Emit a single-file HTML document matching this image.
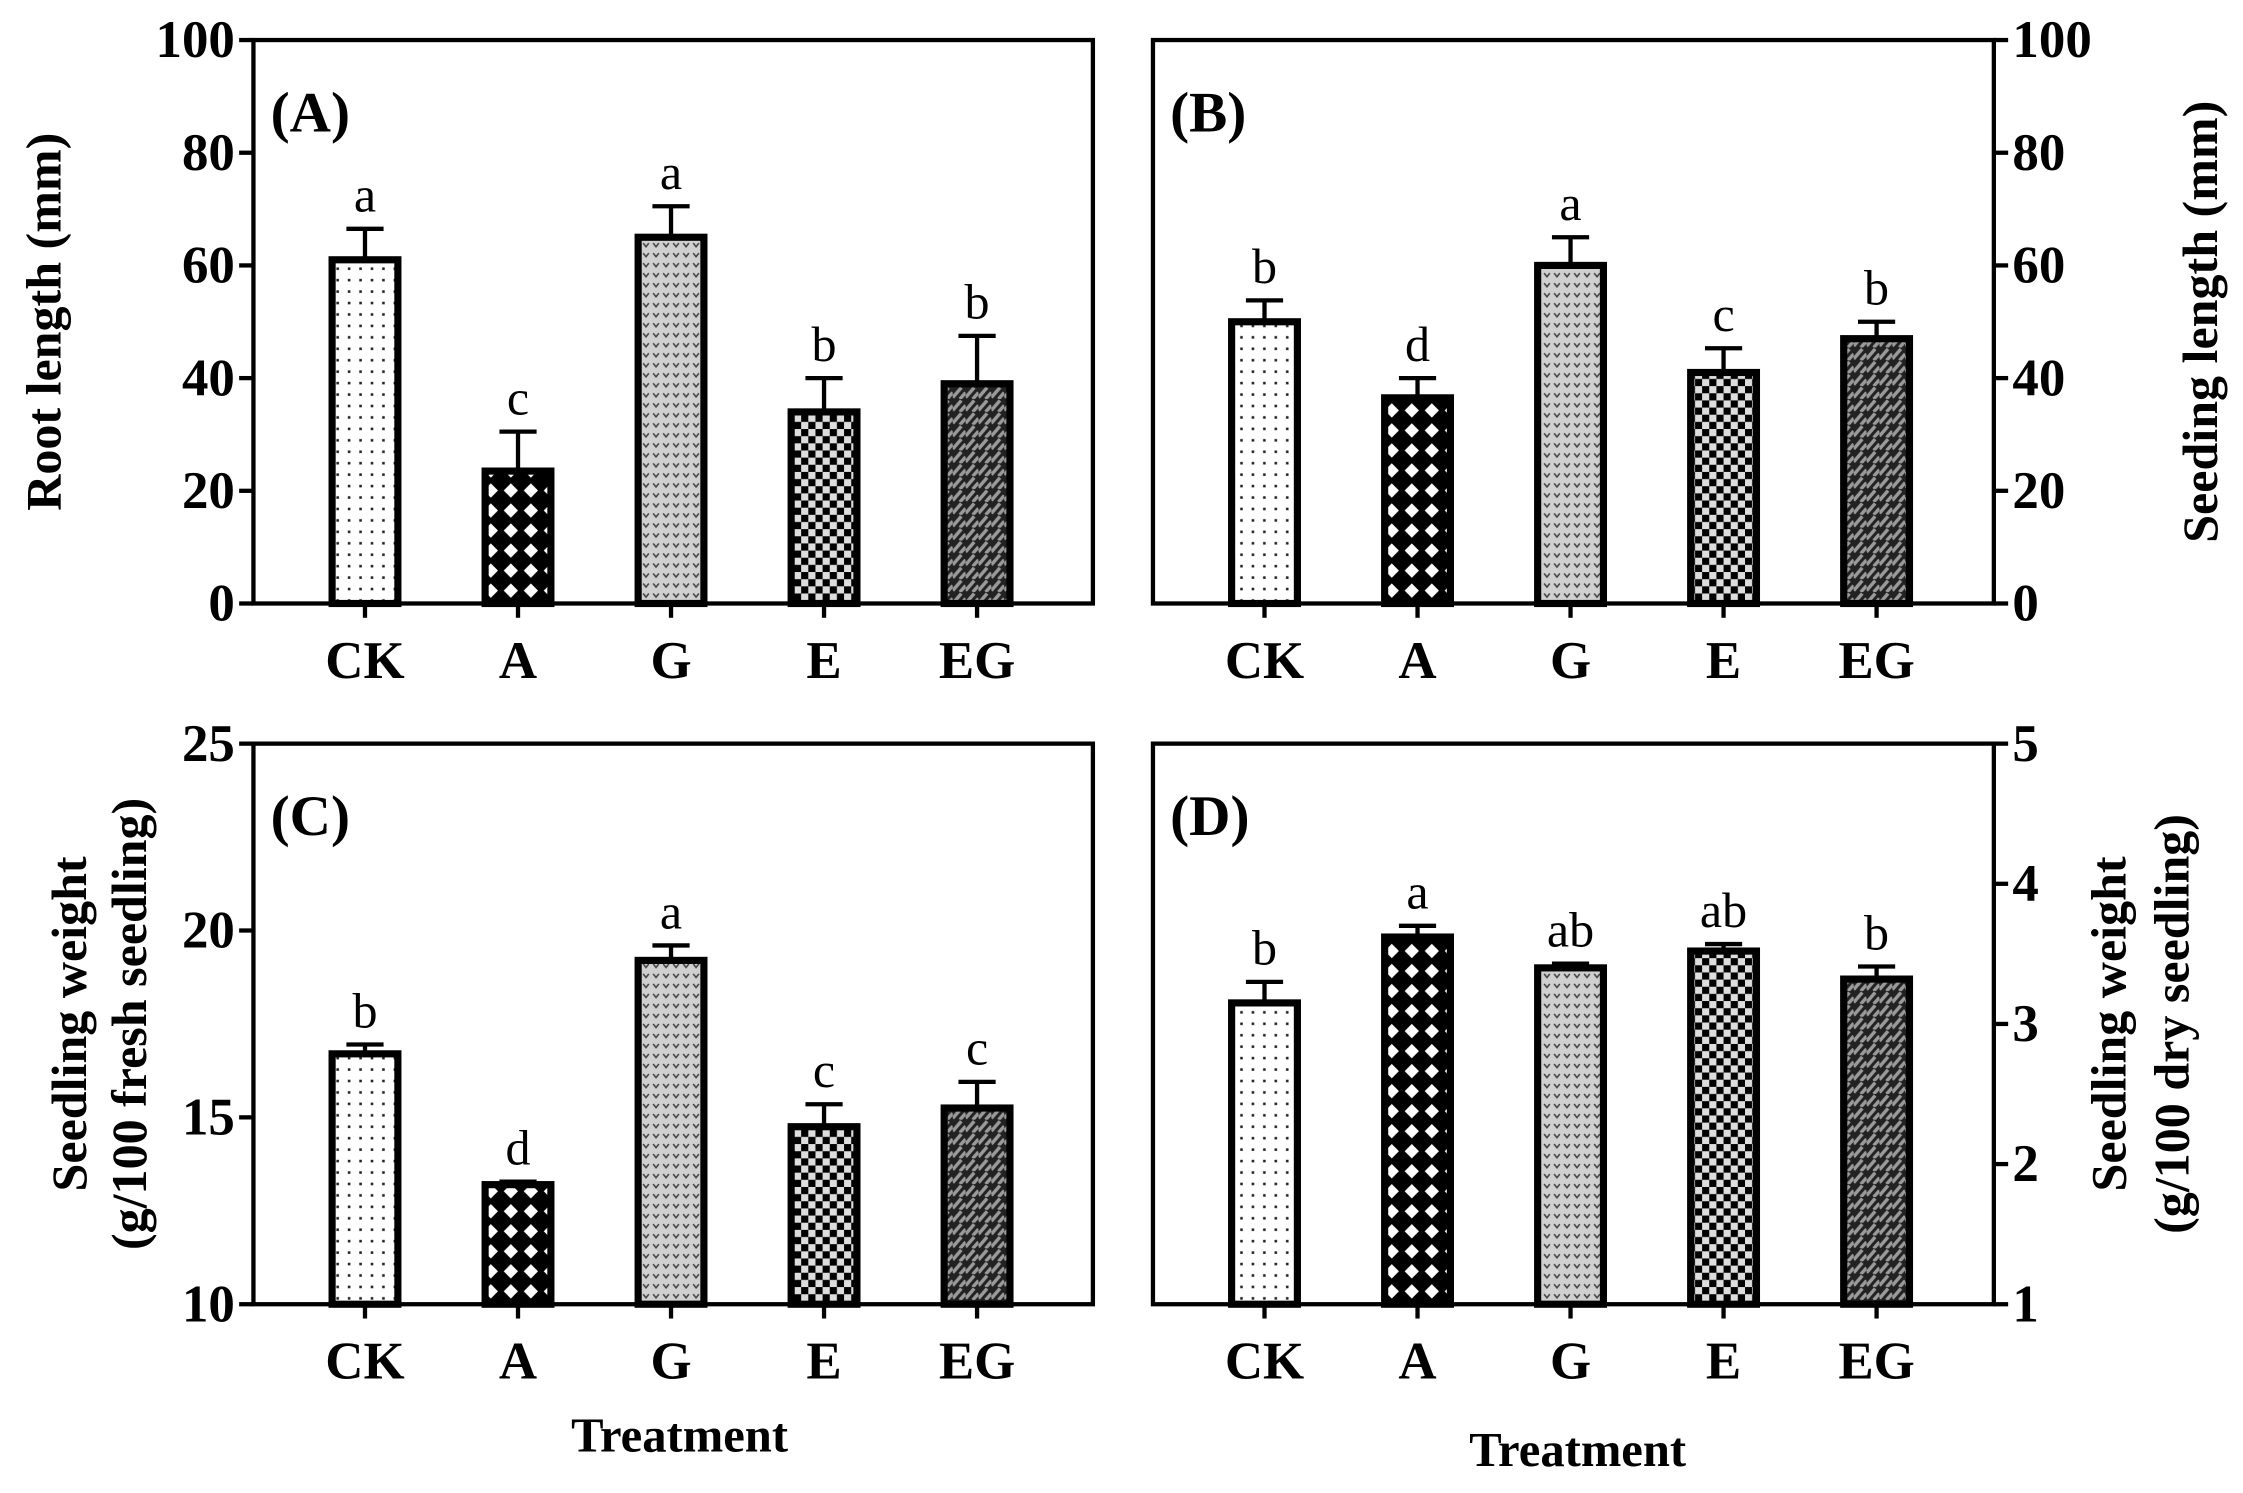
<!DOCTYPE html>
<html><head><meta charset="utf-8">
<style>
html,body{margin:0;padding:0;background:#fff;}
svg{display:block;}
text{font-family:"Liberation Serif",serif;fill:#000;}
</style></head>
<body>
<svg id="fig" width="2243" height="1493" viewBox="0 0 1568 1044" xmlns="http://www.w3.org/2000/svg">
<defs>
  <pattern id="pCK" width="8" height="8" patternUnits="userSpaceOnUse">
    <rect width="8" height="8" fill="#fff"/><rect x="3" y="3" width="1.8" height="1.8" fill="#222"/>
  </pattern>
  <pattern id="pA" width="14" height="14" patternUnits="userSpaceOnUse">
    <rect width="14" height="14" fill="#000"/><polygon points="7,2 12,7 7,12 2,7" fill="#fff"/>
  </pattern>
  <pattern id="pG" width="7" height="7" patternUnits="userSpaceOnUse">
    <rect width="7" height="7" fill="#d0d0d0"/><path d="M1.5,2 L3.5,4.5 L5.5,2" stroke="#444" stroke-width="1.1" fill="none"/>
  </pattern>
  <pattern id="pE" width="10" height="10" patternUnits="userSpaceOnUse">
    <rect width="10" height="10" fill="#ddd"/><rect width="5" height="5" fill="#000"/><rect x="5" y="5" width="5" height="5" fill="#000"/>
  </pattern>
  <pattern id="pEG" width="9" height="9" patternUnits="userSpaceOnUse">
    <rect width="9" height="9" fill="#222"/><path d="M0,8 L6,1 M5,9 L9,4.5" stroke="#9a9a9a" stroke-width="2.4"/>
  </pattern>
</defs>
<g id="root"></g>
</svg>
<script>
const categories = ["CK","A","G","E","EG"];
const fills = ["url(#pCK)","url(#pA)","url(#pG)","url(#pE)","url(#pEG)"];

const valuesA = [61, 23.5, 65, 34, 39];
const errorsA = [5.5, 7, 5.5, 6, 8.5];
const lettersA = ["a","c","a","b","b"];
const ticksA = [0,20,40,60,80,100];

const valuesB = [50, 36.5, 60, 41, 47];
const errorsB = [3.8, 3.5, 5, 4.3, 3];
const lettersB = ["b","d","a","c","b"];
const ticksB = [0,20,40,60,80,100];

const valuesC = [16.7, 13.2, 19.2, 14.75, 15.25];
const errorsC = [0.25, 0.08, 0.4, 0.6, 0.7];
const lettersC = ["b","d","a","c","c"];
const ticksC = [10,15,20,25];

const valuesD = [3.15, 3.62, 3.4, 3.52, 3.32];
const errorsD = [0.15, 0.08, 0.03, 0.05, 0.09];
const lettersD = ["b","a","ab","ab","b"];
const ticksD = [1,2,3,4,5];

const NS = "http://www.w3.org/2000/svg";
const root = document.getElementById("root");
function mk(tag, attrs, parent, txt){
  const e = document.createElementNS(NS, tag);
  for (const k in attrs) e.setAttribute(k, attrs[k]);
  if (txt !== undefined) e.textContent = txt;
  (parent||root).appendChild(e);
  return e;
}

function panel(cfg){
  const g = mk("g", {});
  
  
  const {x0,x1,y0,y1,min,max} = cfg;
  const ys = v => y1 - (v-min)/(max-min)*(y1-y0);
  const xs = i => x0 + 78 + 107*i;
  const bw = 46;
  const frame = mk("rect",{x:x0,y:y0,width:x1-x0,height:y1-y0,fill:"none",stroke:"#000","stroke-width":3},g);
  
  
  const axX = cfg.right ? x1 : x0;
  const dir = cfg.right ? 1 : -1;
  cfg.ticks.forEach(t=>{
    const y = ys(t);
    mk("line",{x1:axX,x2:axX+dir*10,y1:y,y2:y,stroke:"#000","stroke-width":3},g);
    const lb = mk("text",{x:axX+dir*13,y:y+12,"font-size":37,"font-weight":"bold","text-anchor":cfg.right?"start":"end"},g,String(t));
    
    
  });
  cfg.values.forEach((v,i)=>{
    const cx = xs(i), top = ys(v), e = cfg.errors[i];
    const ey = ys(v+e);
    const el = mk("line",{x1:cx,x2:cx,y1:ey,y2:top,stroke:"#000","stroke-width":3},g);
    
    
    mk("line",{x1:cx-13,x2:cx+13,y1:ey,y2:ey,stroke:"#000","stroke-width":3},g);
    const r = mk("rect",{x:cx-bw/2,y:top,width:bw,height:y1-top,fill:fills[i],stroke:"#000","stroke-width":5},g);
    
    
    const lt = mk("text",{x:cx,y:ey-12,"font-size":35,"text-anchor":"middle"},g,cfg.letters[i]);
    
    
    mk("line",{x1:cx,x2:cx,y1:y1,y2:y1+10,stroke:"#000","stroke-width":3},g);
    const cl = mk("text",{x:cx,y:y1+52,"font-size":37,"font-weight":"bold","text-anchor":"middle"},g,categories[i]);
    
    
  });
  const pl = mk("text",{x:x0+12,y:y0+64,"font-size":40,"font-weight":"bold"},g,cfg.label);
  
  
  cfg.titles.forEach((t,k)=>{
    const tx = cfg.titleX[k], ty = (y0+y1)/2;
    const tt = mk("text",{x:tx,y:ty,"font-size":35,"font-weight":"bold","text-anchor":"middle",transform:`rotate(-90 ${tx} ${ty})`},g,t);
    
    
  });
}

panel({name:"panel-a",label:"(A)",x0:177,x1:764,y0:28,y1:422,min:0,max:100,ticks:ticksA,values:valuesA,errors:errorsA,letters:lettersA,right:false,titles:["Root length (mm)"],titleX:[42]});
panel({name:"panel-b",label:"(B)",x0:806,x1:1394,y0:28,y1:422,min:0,max:100,ticks:ticksB,values:valuesB,errors:errorsB,letters:lettersB,right:true,titles:["Seeding length (mm)"],titleX:[1550]});
panel({name:"panel-c",label:"(C)",x0:177,x1:764,y0:520,y1:912,min:10,max:25,ticks:ticksC,values:valuesC,errors:errorsC,letters:lettersC,right:false,titles:["Seedling weight","(g/100 fresh seedling)"],titleX:[60,102]});
panel({name:"panel-d",label:"(D)",x0:806,x1:1394,y0:520,y1:912,min:1,max:5,ticks:ticksD,values:valuesD,errors:errorsD,letters:lettersD,right:true,titles:["Seedling weight","(g/100 dry seedling)"],titleX:[1486,1530]});

const t1 = mk("text",{x:475,y:1015,"font-size":34,"font-weight":"bold","text-anchor":"middle"},root,"Treatment");


const t2 = mk("text",{x:1103,y:1025,"font-size":34,"font-weight":"bold","text-anchor":"middle"},root,"Treatment");


</script>
</body></html>
